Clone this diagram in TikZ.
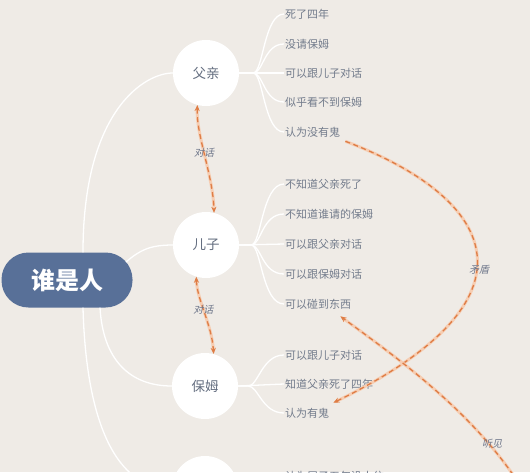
\documentclass[tikz,border=0pt]{standalone}
\usepackage{fontspec}
\setmainfont{Noto Sans CJK SC}
\newfontfamily\cjkit[FakeSlant=0.22]{Noto Sans CJK SC}
\usetikzlibrary{calc,arrows.meta}
\definecolor{bg}{RGB}{239,235,230}
\definecolor{mainblue}{RGB}{88,112,152}
\definecolor{leaftext}{RGB}{115,124,140}
\definecolor{circtext}{RGB}{100,110,128}
\definecolor{ora}{RGB}{222,125,70}
\definecolor{glow}{RGB}{246,205,178}
\definecolor{lbl}{RGB}{110,118,138}
\tikzset{
  pill/.style={rectangle, rounded corners=27pt, fill=mainblue, text=white,
    minimum width=131pt, minimum height=55pt, inner sep=0pt,
    font=\bfseries\fontsize{24}{24}\selectfont},
  circ/.style={circle, fill=white, minimum size=66pt, inner sep=0pt,
    text=circtext, font=\fontsize{13.5}{13.5}\selectfont},
  leaf/.style={anchor=west, inner sep=1pt, text=leaftext,
    font=\fontsize{11}{11}\selectfont},
  wline/.style={draw=white, line width=1.3pt},
  rel/.style={draw=ora, line width=1.3pt, dash pattern=on 5pt off 3.5pt,
    preaction={draw=glow, line width=3pt, solid}},
  tip/.style={-{Stealth[length=6pt,width=5pt]}},
  tips/.style={{Stealth[length=6pt,width=5pt]}-{Stealth[length=6pt,width=5pt]}},
  rlabel/.style={text=lbl, inner sep=1pt, font=\cjkit\fontsize{10}{10}\selectfont}
}
\begin{document}
\begin{tikzpicture}[x=1pt,y=-1pt]
\useasboundingbox (0,0) rectangle (530,472);
\fill[bg] (0,0) rectangle (530,472);
\clip (0,0) rectangle (530,472);

% main node and persons
\node[pill] (main) at (67,280) {谁是人};
\node[circ] (f) at (206,73) {父亲};
\node[circ] (e) at (206,245) {儿子};
\node[circ] (b) at (205,386) {保姆};
\node[circ] (g) at (205,489) {};

% leaves
\node[leaf] (f1) at (284,14) {死了四年};
\node[leaf] (f2) at (284,44) {没请保姆};
\node[leaf] (f3) at (284,73) {可以跟儿子对话};
\node[leaf] (f4) at (284,102) {似乎看不到保姆};
\node[leaf] (f5) at (284,132) {认为没有鬼};

\node[leaf] (e1) at (284,184) {不知道父亲死了};
\node[leaf] (e2) at (284,214) {不知道谁请的保姆};
\node[leaf] (e3) at (284,244) {可以跟父亲对话};
\node[leaf] (e4) at (284,274) {可以跟保姆对话};
\node[leaf] (e5) at (284,304) {可以碰到东西};

\node[leaf] (b1) at (284,355) {可以跟儿子对话};
\node[leaf] (b2) at (284,384) {知道父亲死了四年};
\node[leaf] (b3) at (284,413) {认为有鬼};

\node[leaf] (g1) at (284,476) {认为屋子五年没人住};

% main to persons
\coordinate (m1) at ($(main.north)+(16,0)$);
\coordinate (m2) at (126,262);
\coordinate (m3) at ($(main.south)+(33,0)$);
\coordinate (m4) at ($(main.south)+(16,0)$);
\draw[wline] (m1) .. controls (83,110) and (145,73) .. (f.west);
\draw[wline] (m2) .. controls (140,250) and (150,245) .. (e.west);
\draw[wline] (m3) .. controls (103,360) and (130,386) .. (b.west);
\draw[wline] (m4) .. controls (86,420) and (115,489) .. (g.west);

% person to leaves
\coordinate (fh) at ($(f.east)+(14,0)$);
\coordinate (eh) at ($(e.east)+(12,0)$);
\coordinate (bh) at ($(b.east)+(10,0)$);
\foreach \l in {f1,f2,f4,f5}{
  \draw[wline] (f.east) -- (fh) .. controls +(10,0) and +(-20,0) .. (\l.west);}
\draw[wline] (f.east) -- (f3.west);
\foreach \l in {e1,e2,e4,e5}{
  \draw[wline] (e.east) -- (eh) .. controls +(10,0) and +(-22,0) .. (\l.west);}
\draw[wline] (e.east) -- (e3.west);
\foreach \l in {b1,b3}{
  \draw[wline] (b.east) -- (bh) .. controls +(10,0) and +(-22,0) .. (\l.west);}
\draw[wline] (b.east) -- (b2.west);
\draw[wline] (g.east) -- (g1.west);

% relations
\draw[rel,tips] (f.-105) .. controls (196,135) and (213,175) .. (e.76)
  node[rlabel, pos=0.47] {对话};
\draw[rel,tips] (e.-107) .. controls (197,300) and (212,325) .. (b.75)
  node[rlabel, pos=0.45] {对话};

\coordinate (c1s) at ($(f5.south east)+(4,3)$);
\coordinate (c1e) at ($(b3.north east)+(3,-4)$);
\draw[rel,tip] (c1s) .. controls (500,200) and (545,300) .. (c1e);
\node[rlabel] (lm) at (479,270) {矛盾};

\coordinate (c2s) at (518,482);
\coordinate (c2e) at ($(e5.south east)+(-12,6)$);
\draw[rel,tip] (c2s) .. controls (470,410) and (400,360) .. (c2e);
\node[rlabel] (lt) at (492,444) {听见};
\end{tikzpicture}
\end{document}
